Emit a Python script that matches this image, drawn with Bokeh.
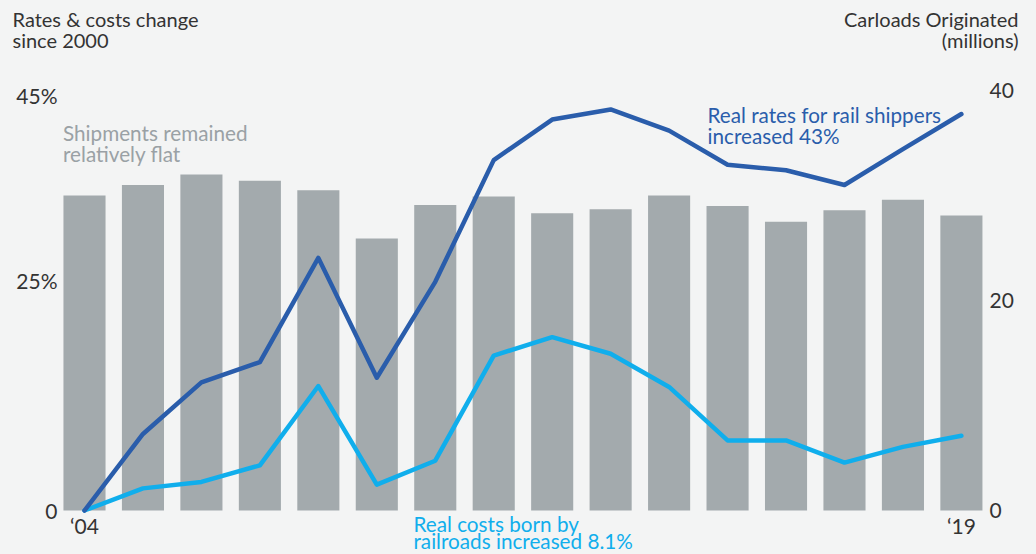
from bokeh.plotting import figure
from bokeh.models import Range1d, LinearAxis, FixedTicker, Label
from bokeh.embed import file_html
from bokeh.resources import INLINE

# ---------------- data ----------------
years = list(range(2004, 2020))
carloads = [30.0, 31.0, 32.0, 31.4, 30.5, 25.9, 29.1, 29.9, 28.3, 28.7, 30.0, 29.0, 27.5, 28.6, 29.6, 28.1]
real_rates = [0, 8.3, 13.9, 16.1, 27.4, 14.4, 24.8, 38.0, 42.4, 43.5, 41.2, 37.5, 36.9, 35.3, 39.2, 43.0]
real_costs = [0, 2.4, 3.1, 4.9, 13.5, 2.8, 5.4, 16.8, 18.8, 17.0, 13.4, 7.6, 7.6, 5.2, 6.9, 8.1]
left_ticks = [0, 25, 45]
left_labels = ["0", "25%", "45%"]
right_ticks = [0, 20, 40]
right_labels = ["0", "20", "40"]
x_ticks = [2004, 2019]
x_labels = ["\u201804", "\u201819"]

# ---------------- style ----------------
BG = "#f3f4f4"
BAR = "#a3aaad"
DARK = "#2a5dab"
LIGHT = "#10aeec"
GREY_TXT = "#9aa1a5"
TXT = "#333333"
FONT = "Lato"

W, H = 1036, 554
PX_YR = 58.46      # pixels per year
PX_PCT = 9.22      # pixels per percentage point (left scale)
PX_CAR = 10.5      # pixels per million carloads (right scale)
X2004 = 84         # pixel position of first bar centre
BASE = 510         # pixel position of the zero line
AX_L, AX_R = 60, 986
LABEL_DY = -7.5    # correction for label baseline placement

x0 = 2004 - X2004 / PX_YR
x1 = x0 + W / PX_YR

p = figure(width=W, height=H, x_range=Range1d(x0, x1),
           y_range=Range1d(-(H - BASE) / PX_PCT, BASE / PX_PCT),
           output_backend="svg", toolbar_location=None,
           min_border=0, min_border_left=0, min_border_right=0,
           min_border_top=0, min_border_bottom=0,
           background_fill_color=BG, border_fill_color=BG, outline_line_color=None)
p.title.visible = False
p.extra_y_ranges = {"car": Range1d(-(H - BASE) / PX_CAR, BASE / PX_CAR)}
p.grid.visible = False

p.vbar(x=years, top=carloads, width=0.72, y_range_name="car", fill_color=BAR, line_color=None)
p.line(years, real_costs, line_width=4.5, color=LIGHT, line_join="round", line_cap="round")
p.line(years, real_rates, line_width=4.5, color=DARK, line_join="round", line_cap="round")


def dx(px):
    return x0 + px / PX_YR


def dy(py):
    return (BASE - py) / PX_PCT


def style_axis(ax, ticks, labels, standoff):
    ax.ticker = FixedTicker(ticks=ticks)
    ax.major_label_overrides = {t: l for t, l in zip(ticks, labels)}
    ax.axis_line_color = None
    ax.major_tick_line_color = None
    ax.minor_tick_line_color = None
    ax.major_tick_out = 0
    ax.major_tick_in = 0
    ax.major_label_standoff = standoff
    ax.major_label_text_font = FONT
    ax.major_label_text_font_size = "21px"
    ax.major_label_text_color = TXT


xa = p.xaxis[0]
style_axis(xa, x_ticks, x_labels, 2)
xa.fixed_location = 0
ya = p.yaxis[0]
style_axis(ya, left_ticks, left_labels, 3)
ya.fixed_location = dx(AX_L)
ra = LinearAxis(y_range_name="car")
style_axis(ra, right_ticks, right_labels, 3)
ra.fixed_location = dx(AX_R)
p.add_layout(ra, "right")


def add_text(txt, px, py, color, size, align="left"):
    p.add_layout(Label(x=dx(px), y=dy(py + LABEL_DY), text=txt, text_color=color,
                       text_font=FONT, text_font_size=size, text_align=align,
                       text_baseline="alphabetic"))


add_text("Rates & costs change", 12, 26, TXT, "20px")
add_text("since 2000", 12, 46.5, TXT, "20px")
add_text("Carloads Originated", 1018, 26, TXT, "20px", "right")
add_text("(millions)", 1018, 46.5, TXT, "20px", "right")

add_text("Shipments remained", 62.5, 140, GREY_TXT, "20.7px")
add_text("relatively flat", 62.5, 160.5, GREY_TXT, "20.7px")
add_text("Real rates for rail shippers", 707, 121.7, DARK, "20.7px")
add_text("increased 43%", 707, 142.7, DARK, "20.7px")
add_text("Real costs born by", 413, 530.5, LIGHT, "20.7px")
add_text("railroads increased 8.1%", 413, 548, LIGHT, "20.7px")

html = None
try:
    from jinja2 import Template
    tmpl = Template("{% extends base %}\n{% block preamble %}<style>html, body {background: "
                    + BG + ";}</style>{% endblock %}")
    html = file_html(p, INLINE, template=tmpl)
except Exception:
    html = None
if html is None:
    html = file_html(p, INLINE)
open("out.html", "w").write(html)
